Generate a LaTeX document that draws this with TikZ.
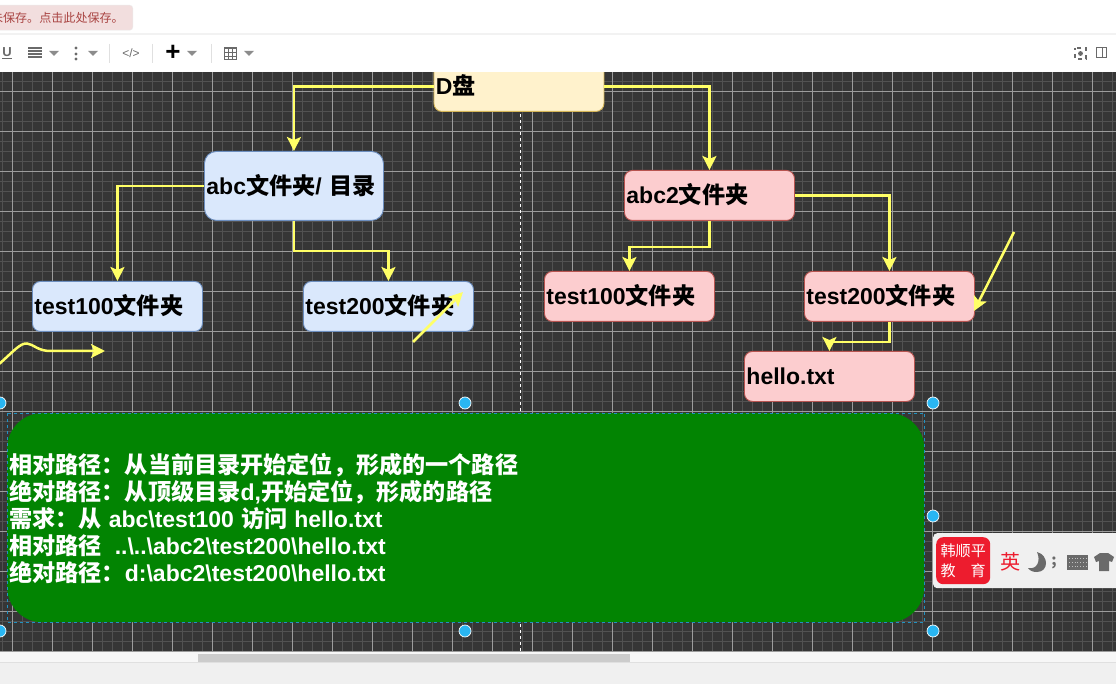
\documentclass[tikz,border=0pt]{standalone}
\usepackage{fontspec}
\setmainfont{Liberation Sans}
\newfontfamily\cjk[Scale=1.006]{Noto Sans CJK SC}
\usetikzlibrary{arrows.meta}
\definecolor{canvasbg}{HTML}{363636}
\definecolor{gridminor}{HTML}{525252}
\definecolor{gridmajor}{HTML}{9C9C9C}
\definecolor{linkyellow}{HTML}{FFFF66}
\definecolor{handleblue}{HTML}{29B6F2}
\definecolor{iconGray}{HTML}{6A6A6A}
\definecolor{noteGreen}{HTML}{028402}
\definecolor{imeRed}{HTML}{ED1C2E}
\newcommand{\zh}[1]{{\cjk\bfseries #1}}
\newcommand{\handle}[2]{\node[handledot] (h#1x#2) at (#1,#2) {};}
\tikzset{
    filebox/.style={draw, rounded corners=8pt, line width=0.9pt, anchor=north west, text width=#1-4pt, minimum height=50pt, inner sep=2pt, text height=20pt, text depth=3pt, align=left, text=black, font=\fontsize{23}{27}\bfseries\selectfont},
    filebox/.default=170pt,
    dbox/.style={filebox, fill={rgb,255:red,255;green,242;blue,204}, draw={rgb,255:red,214;green,182;blue,86}},
    bluebox/.style={filebox=#1, fill={rgb,255:red,218;green,232;blue,252}, draw={rgb,255:red,108;green,142;blue,191}},
    bluebox/.default=170pt,
    redbox/.style={filebox, fill={rgb,255:red,252;green,205;blue,207}, draw={rgb,255:red,184;green,84;blue,80}},
    link/.style={-{Stealth[width=14pt,length=14pt,inset=3pt]}, linkyellow, line width=2.5pt},
    handledot/.style={circle, fill=handleblue, draw=white, line width=0.7pt, minimum size=12pt, inner sep=0pt},
    tool/.style={text=iconGray, font=\fontsize{12}{14}\selectfont, inner sep=0pt},
}
\begin{document}
\begin{tikzpicture}[x=1pt,y=-1pt]
    \useasboundingbox (0,0) rectangle (1116,684);
    \fill[canvasbg] (0,60) rectangle (1116,652);
    \foreach \x in {2,12,...,1112} {\draw[gridminor, line width=1pt] (\x,60) -- (\x,652);}
    \foreach \y in {61.5,71.5,...,652} {\draw[gridminor, line width=1pt] (0,\y) -- (1116,\y);}
    \foreach \x in {12,52,...,1112} {\draw[gridmajor, line width=0.9pt] (\x,60) -- (\x,652);}
    \foreach \y in {91.5,131.5,...,652} {\draw[gridmajor, line width=0.9pt] (0,\y) -- (1116,\y);}
    \draw[white, dashed, line width=0.6pt] (520.5,60) -- (520.5,652);

    % Folder tree.
    \node[dbox] (dpan) at (433.5,61) {D\zh{盘}};
    \node[bluebox=179pt, minimum height=69pt, rounded corners=12pt] (abc) at (204,151) {abc\zh{文件夹}/ \zh{目录}};
    \node[bluebox] (leftHundred) at (32,281) {test100\zh{文件夹}};
    \node[bluebox] (leftTwoHundred) at (303,281) {test200\zh{文件夹}};
    \node[redbox] (abcTwo) at (624,170) {abc2\zh{文件夹}};
    \node[redbox] (rightHundred) at (544,271) {test100\zh{文件夹}};
    \node[redbox] (rightTwoHundred) at (804,271) {test200\zh{文件夹}};
    \node[redbox] (hello) at (744,351) {hello.txt};

    \draw[link] (dpan.west) -| (abc.north);
    \draw[link] (dpan.east) -| (abcTwo.north);
    \draw[link] (abc.west) -| (leftHundred.north);
    \draw[link] (abc.south) -- ++(0,30) -| (leftTwoHundred.north);
    \draw[link] (abcTwo.south) -- ++(0,26) -| (rightHundred.north);
    \draw[link] (abcTwo.east) -| (rightTwoHundred.north);
    \draw[link] (rightTwoHundred.south) -- ++(0,20) -| (hello.north);

    % Loose arrows.
    \coordinate (looseA) at (413,342);
    \coordinate (looseB) at (463,292);
    \coordinate (looseC) at (1014,232);
    \coordinate (looseD) at (974,311);
    \coordinate (looseE) at (-2,365);
    \coordinate (looseF) at (105,351);
    \draw[link] (looseA) -- (looseB);
    \draw[link] (looseC) -- (looseD);
    \draw[link] (looseE) .. controls (14,351) and (20,343) .. (27,343.5) .. controls (33,344) and (38,351) .. (50,351) -- (looseF);

    % Selected note.
    \node[rounded corners=35pt, fill=noteGreen, draw=none, minimum width=917pt, minimum height=209pt, anchor=north west, inner sep=0pt] (note) at (7,413) {};
    \node[anchor=west, text width=900pt, align=left, inner sep=0pt, text=white, font=\fontsize{23}{27}\bfseries\selectfont] (noteText) at (9,518) {
        \zh{相对路径：从当前目录开始定位，形成的一个路径}\\
        \zh{绝对路径：从顶级目录}d,\zh{开始定位，形成的路径}\\
        \zh{需求：从}\hspace{7pt}abc\textbackslash test100\hspace{7pt}\zh{访问}\hspace{7pt}hello.txt\\
        \zh{相对路径}\hspace{13pt}..\textbackslash..\textbackslash abc2\textbackslash test200\textbackslash hello.txt\\
        \zh{绝对路径：}d:\textbackslash abc2\textbackslash test200\textbackslash hello.txt};
    \draw[handleblue!80!black, dashed, line width=0.7pt] (note.north west) rectangle (note.south east);
    \handle{0}{403}
    \handle{465}{403}
    \handle{933}{403}
    \handle{933}{516}
    \handle{0}{631}
    \handle{465}{631}
    \handle{933}{631}

    % Input method bar.
    \node[anchor=north west, fill=black!6, rounded corners=4pt, minimum width=200pt, minimum height=55pt, inner sep=0pt] (imeBar) at (933,533) {};
    \node[anchor=north west, fill=imeRed, rounded corners=7pt, minimum width=54pt, minimum height=47pt, inner sep=0pt, align=center, text=white, font=\cjk\fontsize{15}{20}\selectfont] (imeLogo) at (936,537) {韩顺平\\教\hspace{15pt}育};
    \node[text=imeRed, font=\cjk\fontsize{20}{22}\selectfont, inner sep=0pt] (imeLang) at (1011,562) {英};
    \node[tool, font=\cjk\bfseries\fontsize{15}{16}\selectfont] (imeDot) at (1054,563) {;};
    \fill[iconGray] (1028,568) .. controls (1037,570) and (1041,561) .. (1037,552) .. controls (1049,555) and (1049,572) .. (1037,572) .. controls (1033,572) and (1030,571) .. (1028,568);
    \fill[iconGray] (1067,555) rectangle (1088,570);
    \foreach \y in {558,562,566} {\draw[black!25, dotted, line width=0.8pt] (1069,\y) -- (1086,\y);}
    \fill[iconGray] (1094,557) -- (1100,553) -- (1108,553) -- (1114,557) -- (1112,562) -- (1109,561) -- (1109,571) -- (1099,571) -- (1099,561) -- (1096,562) -- cycle;

    % Page chrome.
    \fill[white] (0,0) rectangle (1116,72);
    \fill[black!5] (0,33.5) rectangle (1116,35);
    \fill[black!3] (0,652) rectangle (1116,662);
    \fill[black!6] (0,662) rectangle (1116,684);
    \draw[black!12, line width=0.6pt] (0,662.5) -- (1116,662.5);
    \fill[black!20] (198,654) rectangle (630,662);
    \begin{scope}
        \clip (0,0) rectangle (1116,34);
        \node[anchor=north east, fill={rgb,255:red,242;green,222;blue,222}, draw=black!8, rounded corners=3pt, minimum width=170pt, minimum height=25pt, inner sep=0pt] (alert) at (133,5) {};
    \end{scope}
    \node[anchor=east, text={rgb,255:red,169;green,68;blue,66}, font=\cjk\fontsize{12}{14}\selectfont, inner sep=0pt] (alertText) at (124,18) {未保存。点击此处保存。};
    \node[tool, font=\fontsize{13}{14}\bfseries\selectfont] (toolU) at (7,53) {\underline{U}};
    \foreach \y in {48,51,54,57} {\draw[iconGray, line width=1.2pt] (28,\y) -- (42,\y);}
    \foreach \y in {48,54,59} {\fill[iconGray] (76,\y) circle (1.6pt);}
    \foreach \x in {54,93,192,249} {\fill[black!45] (\x-5,51) -- (\x+5,51) -- (\x,56) -- cycle;}
    \foreach \x in {109,152,211} {\draw[black!12, line width=0.7pt] (\x,44) -- (\x,63);}
    \node[tool, font=\fontsize{12}{12}\selectfont] (toolCode) at (131,53) {</>};
    \node[tool, text=black, font=\fontsize{26}{26}\bfseries\selectfont] (toolPlus) at (173,53) {+};
    \draw[iconGray, line width=0.7pt, step=4pt] (224,47) grid (236,59);
    \draw[iconGray, line width=0.7pt] (224,47) rectangle (236,59);
    \draw[iconGray, line width=1.4pt, dash pattern=on 4pt off 4pt, dash phase=2pt] (1075,48) rectangle (1086,59);
    \fill[iconGray] (1080.5,53.5) circle (2.4pt);
    \draw[iconGray, line width=1pt] (1096,48) rectangle (1106,58) (1102,48) -- (1102,58);
\end{tikzpicture}
\end{document}
